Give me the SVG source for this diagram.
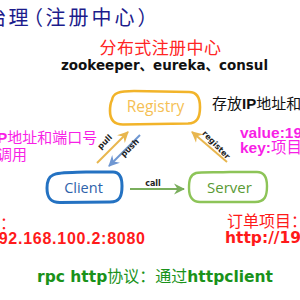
<svg xmlns="http://www.w3.org/2000/svg" width="300" height="300" viewBox="0 0 300 300">
<style>
.cjk{font-family:"Noto Sans CJK SC","Noto Sans",sans-serif;}
.b{font-family:"Liberation Sans","Noto Sans CJK SC",sans-serif;font-weight:bold;}
.dv{font-family:"DejaVu Sans","Noto Sans CJK SC",sans-serif;font-weight:bold;}
.lbl{font-family:"Open Sans","DejaVu Sans",sans-serif;}
.al{font-family:"DejaVu Sans",sans-serif;font-weight:bold;font-size:8px;fill:#222;text-anchor:middle;dominant-baseline:middle;}
.box{fill:none;stroke-linecap:round;stroke-linejoin:round;}
.pink{fill:#f81fe6;}
.red{fill:#ff1a1a;}
</style>
<defs>
<marker id="ao" markerUnits="userSpaceOnUse" markerWidth="12" markerHeight="12" refX="10" refY="6" orient="auto"><path d="M0,0.5 L11,6 L0,11.5 L3.5,6 Z" fill="#e8b64e"/></marker>
<marker id="ab" markerUnits="userSpaceOnUse" markerWidth="12" markerHeight="12" refX="10" refY="6" orient="auto"><path d="M0,0.5 L11,6 L0,11.5 L3.5,6 Z" fill="#6f97d2"/></marker>
<marker id="ag" markerUnits="userSpaceOnUse" markerWidth="12" markerHeight="12" refX="10" refY="6" orient="auto"><path d="M0,0.5 L11,6 L0,11.5 L3.5,6 Z" fill="#7aae5c"/></marker>
</defs>

<g id="title">
<text class="cjk" font-size="20" fill="#1c1c8c" y="24.5" x="-14 8.5 23 45.5 68.5 91.5 114.5 137.5">治理（注册中心）</text>
</g>
<g id="heading">
<text class="cjk" font-size="17" fill="#ff2424" x="99.5" y="53.8" letter-spacing="0.4">分布式注册中心</text>
<text class="dv" font-size="14.5" fill="#111" x="61" y="70" textLength="207" lengthAdjust="spacingAndGlyphs">zookeeper、eureka、consul</text>
</g>

<g id="connectors" fill="none" stroke-width="2">
<line x1="97" y1="163" x2="128" y2="132" stroke="#e8b64e" marker-end="url(#ao)"/>
<line x1="140" y1="135" x2="109" y2="166" stroke="#6f97d2" marker-end="url(#ab)"/>
<line x1="227" y1="162" x2="192" y2="132" stroke="#e8b64e" marker-end="url(#ao)"/>
<line x1="130" y1="189" x2="184" y2="189" stroke="#7aae5c" marker-end="url(#ag)"/>
<text class="al" transform="translate(105,142) rotate(-45)">pull</text>
<text class="al" transform="translate(130,148) rotate(-45)">push</text>
<text class="al" transform="translate(216,145) rotate(46)" font-size="7.5">register</text>
<text class="al" x="153" y="183.5">call</text>
</g>

<g id="registry">
<path class="box" stroke="#f2b42a" stroke-width="2.6" d="M112,100 C113,93 119,91 134,91 L189,92 C197,92 200,98 200,107 C200,118 197,123 188,123.5 L123,124.5 C114,124.5 110,120 110,111 C110,106 110.5,103 112,100"/>
<text class="lbl" font-size="15.5" fill="#f5bf55" x="155.5" y="112" text-anchor="middle">Registry</text>
</g>
<g id="client">
<path class="box" stroke="#2472c2" stroke-width="3" d="M53,175 C58,172 72,172.5 86,172 L113,172 C120,172 122,178 122,186 C122,196 120,202 110,202 L60,202.5 C50,202.5 47,197 47,188 C47,181 48.5,177 53,175"/>
<text class="lbl" font-size="14.5" fill="#2e62aa" x="83.5" y="192.5" text-anchor="middle">Client</text>
</g>
<g id="server">
<path class="box" stroke="#8dc458" stroke-width="2.4" d="M196,173 C200,172 215,172.5 230,172 L257,172 C265,172 267,178 267,186 C267,196 265,202 255,202 L200,202 C192,202 189,197 189,188 C189,180 190,175 196,173"/>
<text class="lbl" font-size="15" fill="#5a9a35" x="229.5" y="192.5" text-anchor="middle">Server</text>
</g>

<g id="notes">
<text class="cjk" font-size="15" fill="#111" x="212" y="108.5">存放<tspan class="b">IP</tspan>地址和</text>
<text class="cjk pink" font-size="15" x="-7" y="143"><tspan class="b">IP</tspan>地址和端口号</text>
<text class="cjk pink" font-size="15" x="-3" y="160">调用</text>
<text class="b pink" font-size="15.5" x="240" y="138">value:19</text>
<text class="b pink" font-size="15.5" x="240" y="153">key:<tspan class="cjk" font-weight="normal">项目</tspan></text>
<text class="cjk red" font-size="16" x="0" y="229">：</text>
<text class="b red" font-size="16" x="-11" y="243.5" letter-spacing="0.75">192.168.100.2:8080</text>
<text class="cjk red" font-size="16" x="227" y="227">订单项目：</text>
<text class="dv red" font-size="15.5" x="225" y="243">http://19</text>
<text class="dv" font-size="15.5" fill="#1a921a" x="37" y="282">rpc http<tspan class="cjk" font-weight="normal" font-size="16">协议：通过</tspan>httpclient</text>
</g>
</svg>
